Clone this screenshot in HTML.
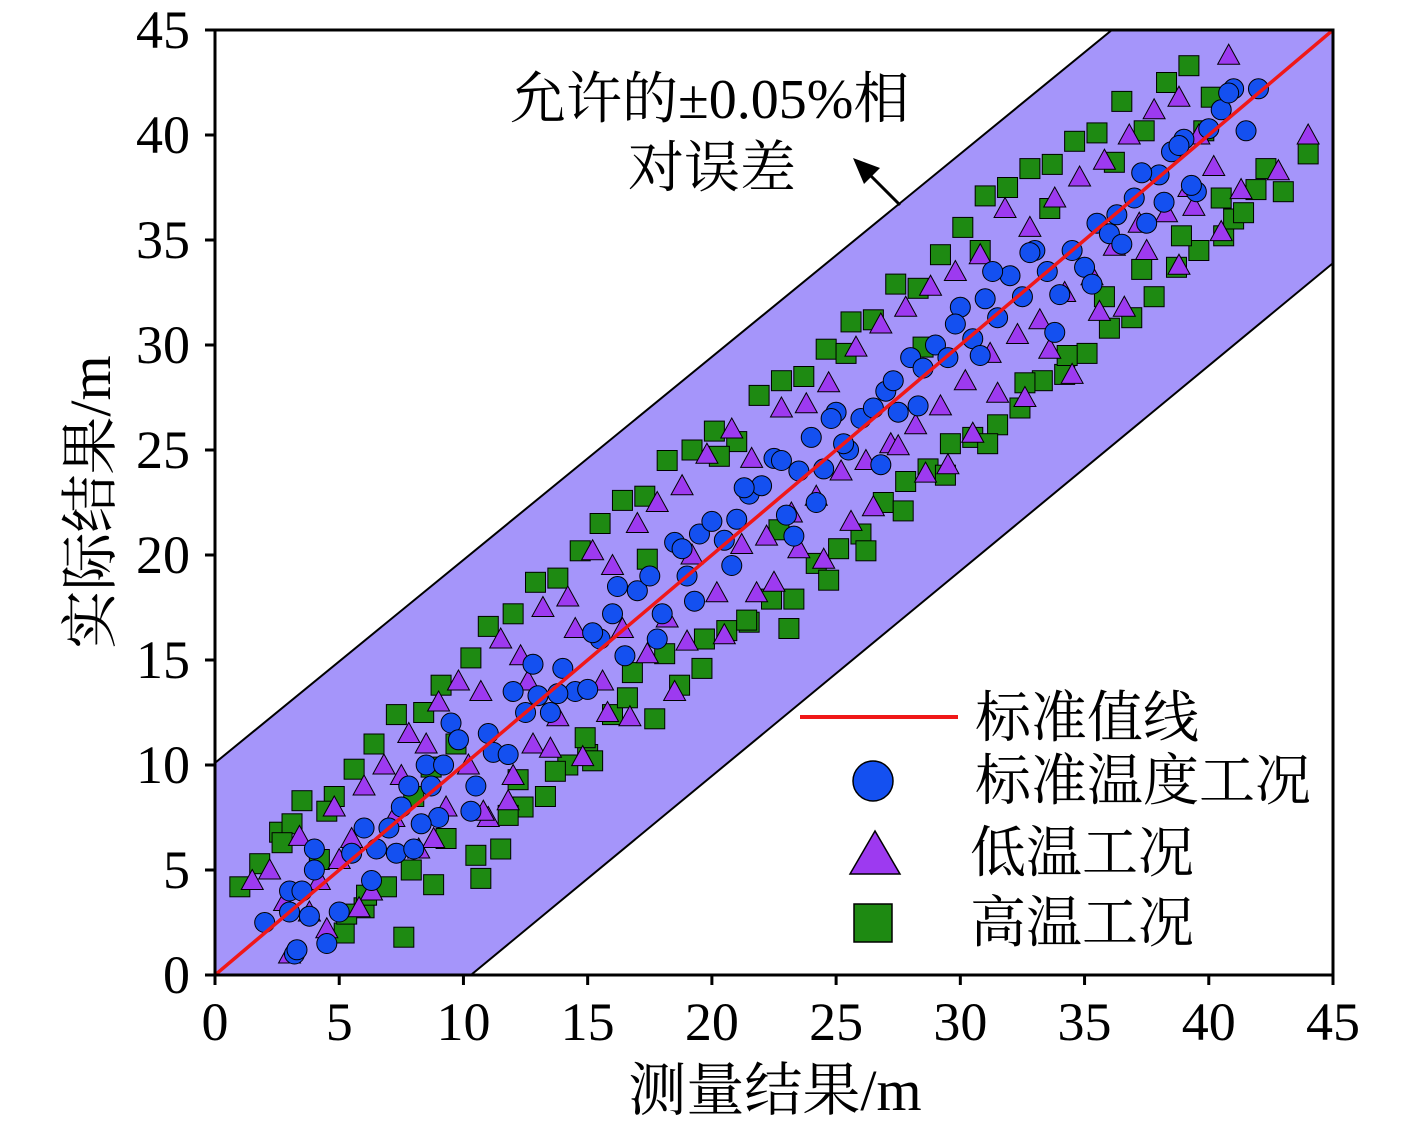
<!DOCTYPE html>
<html><head><meta charset="utf-8"><style>
body{margin:0;background:#fff}
svg text{font-family:"Liberation Serif","Noto Serif CJK SC",serif;fill:#000}
</style></head><body>
<svg id="c" width="1417" height="1124" xmlns="http://www.w3.org/2000/svg"></svg>
<script>
const xTicks=[0,5,10,15,20,25,30,35,40,45];
const yTicks=[0,5,10,15,20,25,30,35,40,45];
const bandUpper=[[0,10.1],[36.1,45]];
const bandLower=[[10.3,0],[45,33.9]];
const blueX=[2,3,3,3.2,3.5,3.8,4,4,4.5,5,5.5,6,6.5,7,7.3,7.5,7.8,8,8.5,8.7,9,9.2,9.5,10.5,11,11.2,12,12.5,13,13.5,14,14.5,15,15.5,16,16.5,17,17.5,18,18.5,19,19.5,20,20.5,21,21.5,22,22.5,23,23.5,24,24.5,25,25.5,26,26.5,27,27.5,28,28.5,29,29.5,30,30.5,31,31.5,32,32.5,33,33.5,34,34.5,35,35.5,36,36.5,37,37.5,38,38.5,39,39.5,40,40.5,41,41.5,42,
 10.3,11.8,13.8,15.2,16.2,17.8,18.8,19.3,20.8,21.3,22.8,23.3,24.2,24.8,25.3,26.8,27.3,28.3,29.8,30.8,31.3,32.8,33.8,35.3,36.3,37.3,38.2,38.8,39.3,40.8,3.3,6.3,8.3,9.8,12.8];
const blueY=[2.5,4,3,1,4,2.8,6,5,1.5,3,5.8,7,6,7,5.8,8,9,6,10,9,7.5,10,12,9,11.5,10.6,13.5,12.5,13.3,12.5,14.6,13.5,13.6,16,17.2,15.2,18.3,19,17.2,20.6,19,21,21.6,20.7,21.7,22.9,23.3,24.6,21.9,24,25.6,24.1,26.8,25,26.5,27,27.8,26.8,29.4,28.9,30,29.4,31.8,30.3,32.2,31.3,33.3,32.3,34.5,33.5,32.4,34.5,33.7,35.8,35.3,34.8,37,35.8,38.1,39.2,39.8,37.3,40.3,41.2,42.2,40.2,42.2,
 7.8,10.5,13.4,16.3,18.5,16,20.3,17.8,19.5,23.2,24.5,20.9,22.5,26.5,25.3,24.3,28.3,27.1,31,29.5,33.5,34.4,30.6,32.9,36.2,38.2,36.8,39.5,37.6,42,1.2,4.5,7.2,11.2,14.8];
const triX=[1.5,2.2,2.8,3,3.4,3.8,4.2,4.8,5,5.5,6,6.3,6.8,7.2,7.8,8.2,8.5,9,9.3,9.8,10.2,10.7,11,11.5,12,12.3,12.8,13.2,13.8,14.2,14.8,15.2,15.6,16,16.4,17,17.4,17.8,18.2,18.8,19.2,19.8,20.2,20.8,21.2,21.6,22.2,22.8,23.2,23.8,24.2,24.7,25.2,25.8,26.2,26.8,27.2,27.8,28.2,28.8,29.2,29.8,30.2,30.8,31.2,31.8,32.3,32.8,33.2,33.8,34.2,34.8,35.3,35.8,36.2,36.8,37.2,37.8,38.3,38.8,39.2,39.6,40.2,40.8,41.3,42.8,44,
 5.8,7.5,10.8,12.6,14.5,16.7,19,21.8,23.5,25.6,27.5,29.5,31.5,33.6,35.6,37.5,39.4,13.5,18.5,22.5,26.5,30.5,34.5,38.8,4.5,8.8,11.8,15.8,20.5,24.5,28.6,32.6,36.6,40.5];
const triY=[4.5,5,3.5,1,6.6,3,4.5,8,5.5,6.5,9,4,10,7.5,11.5,6,11,13,8,14,10,13.5,7.5,16,9.5,15.2,11,17.5,12.3,18,10.4,20.2,14,19.5,16.5,21.5,15.3,22.5,17,23.3,20,24.8,18.2,26,20.5,24.6,20.9,27,22,27.2,22.8,28.2,24,29.9,24.5,31,25.3,31.8,26.2,32.8,27.1,33.5,28.3,34.3,29.6,36.5,30.5,35.6,31.2,37,32.5,38,33.3,38.8,34.7,40,35.8,41.2,36.3,41.8,37.5,40,38.5,43.8,37.4,38.3,40,
 3.2,9.5,7.8,14,16.5,12.3,15.9,18.2,20.3,21.6,25.2,24.3,27.7,29.8,31.6,34.5,36.6,10.8,13.5,18.7,22.3,25.8,28.6,33.8,2.2,6.5,8.3,12.5,16.2,19.8,23.9,27.5,31.8,35.4];
const sqX=[1,1.8,2.6,3.1,3.5,4.2,4.8,5.2,5.6,6,6.4,6.9,7.3,7.6,8,8.4,8.8,9.3,9.7,10.3,10.7,11,11.5,12,12.4,12.9,13.3,13.8,14.2,14.7,15,15.5,16,16.4,16.8,17.3,17.7,18.2,18.7,19.2,19.6,20.1,20.6,21,21.5,21.9,22.4,22.8,23.3,23.7,24.2,24.6,25.1,25.6,26,26.5,26.9,27.4,27.8,28.3,28.7,29.2,29.6,30.1,30.5,31,31.5,31.9,32.4,32.8,33.3,33.7,34.2,34.6,35.1,35.5,36,36.5,36.9,37.4,37.8,38.3,38.7,39.2,39.6,40.1,40.6,41,41.4,41.9,42.3,43,44,
 2.7,4.5,6.1,7.9,9.1,10.5,12.2,13.7,15.2,16.6,18.1,19.7,21.4,23.1,24.7,26.2,27.7,29.4,31.1,32.6,34.3,35.8,37.3,38.9,40.5,5.3,8.7,11.8,14.9,17.4,20.3,22.7,25.4,28.5,30.8,33.6,36.2,39.8];
const sqY=[4.2,5.3,6.8,7.2,8.3,5.5,8.5,2,9.8,3.2,11,4.2,12.4,1.8,8.5,12.5,4.3,6.5,11,15.1,4.6,16.6,6,17.2,8,18.7,8.5,18.9,10,20.2,10.5,21.5,12.4,22.6,14.4,22.8,12.2,24.5,13.8,25,14.6,25.9,16.4,25.4,16.8,27.6,17.9,28.3,17.9,28.5,19.6,29.8,20.3,31.1,21,31.2,22.5,32.9,23.5,32.7,24.1,34.3,25.3,35.6,25.6,37.1,26.2,37.5,27,38.4,28.3,38.6,28.6,39.7,29.6,40.1,30.8,41.6,31.3,40.2,32.3,42.5,33.7,43.3,34.5,41.8,35.2,36,36.3,37.4,38.4,37.3,39.1,
 6.3,7.8,3.8,5,13.8,5.7,9.3,9.7,10.2,13.2,15.3,16,16.9,16.5,18.8,20.2,22.1,23.8,25.3,28.2,29.5,32.3,33.6,35.2,37,2.9,9.9,7.6,11.3,19.8,24.7,21.2,29.6,29.9,34.5,36.5,38.7,40.2];
const X0=215,X1=1333,Y0=975,Y1=30;
const sx=v=>X0+(X1-X0)*v/45, sy=v=>Y0-(Y0-Y1)*v/45;
const svg=document.getElementById('c');const NS='http://www.w3.org/2000/svg';
function mk(t,a,p){const e=document.createElementNS(NS,t);for(const k in a)e.setAttribute(k,a[k]);(p||svg).appendChild(e);return e;}
const clip=mk('clipPath',{id:'pc'});mk('rect',{x:X0,y:Y1,width:X1-X0,height:Y0-Y1},clip);
const g=mk('g',{'clip-path':'url(#pc)'});
let band=mk('polygon',{points:[[0,0],bandUpper[0],bandUpper[1],[45,45],bandLower[1],bandLower[0]].map(p=>sx(p[0])+','+sy(p[1])).join(' '),fill:'#a595fa',stroke:'none'},g);

let bu=mk('line',{x1:sx(bandUpper[0][0]),y1:sy(bandUpper[0][1]),x2:sx(bandUpper[1][0]),y2:sy(bandUpper[1][1]),stroke:'#000','stroke-width':2},g);

let bl=mk('line',{x1:sx(bandLower[0][0]),y1:sy(bandLower[0][1]),x2:sx(bandLower[1][0]),y2:sy(bandLower[1][1]),stroke:'#000','stroke-width':2},g);

function sq(x,y){return mk('rect',{x:x-10,y:y-10,width:20,height:20,fill:'#1e8a12',stroke:'#000','stroke-width':1},g);}
function tri(x,y){return mk('polygon',{points:`${x},${y-11} ${x-11},${y+9} ${x+11},${y+9}`,fill:'#9d3af0',stroke:'#000','stroke-width':1},g);}
function cir(x,y){return mk('circle',{cx:x,cy:y,r:10,fill:'#1450f0',stroke:'#000','stroke-width':1},g);}
sqX.forEach((v,i)=>{const e=sq(sx(v),sy(sqY[i]));

});
triX.forEach((v,i)=>{const e=tri(sx(v),sy(triY[i]));

});
blueX.forEach((v,i)=>{const e=cir(sx(v),sy(blueY[i]));

});
let rl=mk('line',{x1:sx(0),y1:sy(0),x2:sx(45),y2:sy(45),stroke:'#f01818','stroke-width':3.5},g);

let fr=mk('rect',{x:X0,y:Y1,width:X1-X0,height:Y0-Y1,fill:'none',stroke:'#000','stroke-width':3});

xTicks.forEach(v=>{mk('line',{x1:sx(v),y1:Y0,x2:sx(v),y2:Y0+10,stroke:'#000','stroke-width':3});
const t=mk('text',{x:sx(v),y:1040,'font-size':54,'text-anchor':'middle','font-family':'Liberation Serif, serif'});t.textContent=v;
});
yTicks.forEach(v=>{mk('line',{x1:X0-10,y1:sy(v),x2:X0,y2:sy(v),stroke:'#000','stroke-width':3});
const t=mk('text',{x:190,y:sy(v)+18,'font-size':54,'text-anchor':'end','font-family':'Liberation Serif, serif'});t.textContent=v;
});
</script>
<svg style="position:absolute;left:0;top:0" width="1417" height="1124" xmlns="http://www.w3.org/2000/svg">
<text x="775" y="1110" font-size="58" text-anchor="middle">测量结果/m</text>
<text transform="translate(110,502) rotate(-90)" font-size="58" text-anchor="middle">实际结果/m</text>
<text x="510" y="118" font-size="56">允许的<tspan font-family="Liberation Serif, serif">±0.05%</tspan>相</text>
<text x="628" y="187" font-size="56">对误差</text>
<g><line x1="900" y1="205" x2="868" y2="173" stroke="#000" stroke-width="3"/><polygon points="853,158 880,168 864,184" fill="#000"/></g>
<g>
<line x1="800" y1="717" x2="958" y2="717" stroke="#f01818" stroke-width="4"/>
<text x="975" y="737" font-size="56">标准值线</text>
<circle cx="873" cy="781" r="20" fill="#1450f0" stroke="#000" stroke-width="1.5"/>
<text x="975" y="800" font-size="56">标准温度工况</text>
<polygon points="875,831 850,874 900,874" fill="#9d3af0" stroke="#000" stroke-width="1.5"/>
<text x="970" y="872" font-size="56">低温工况</text>
<rect x="854" y="904" width="38" height="38" fill="#1e8a12" stroke="#000" stroke-width="1.5"/>
<text x="970" y="942" font-size="56">高温工况</text>
</g></svg>
</body></html>
